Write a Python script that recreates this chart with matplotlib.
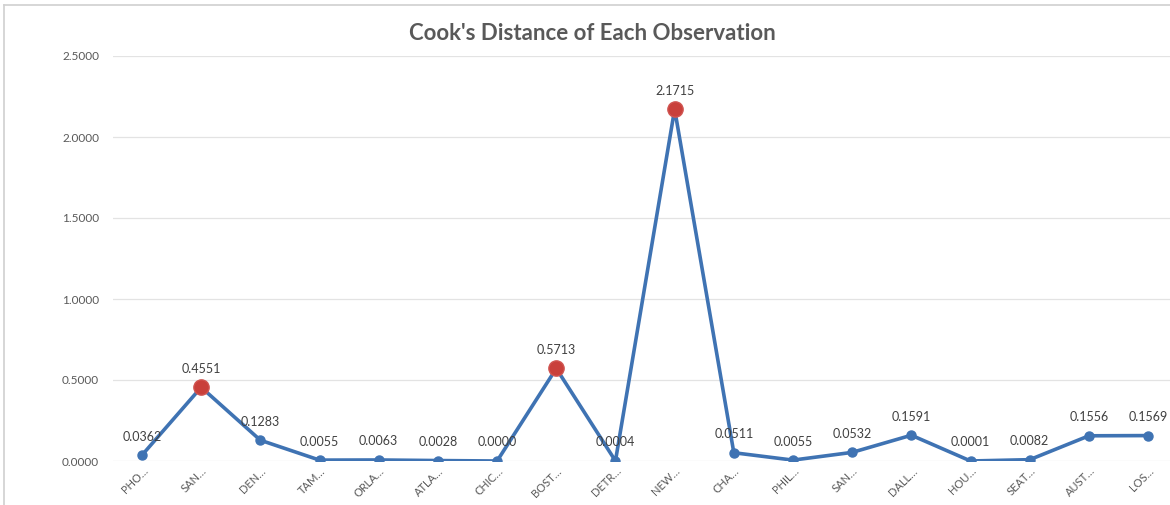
import matplotlib.pyplot as plt
from matplotlib.lines import Line2D

# labels on the category axis (truncated, as in the original)
steden = ["PHO…", "SAN…", "DEN…", "TAM…", "ORLA…", "ATLA…", "CHIC…", "BOST…", "DETR…",
          "NEW…", "CHA…", "PHIL…", "SAN…", "DALL…", "HOU…", "SEAT…", "AUST…", "LOS…"]

cooks_d = [0.0362, 0.4551, 0.1283, 0.0055, 0.0063, 0.0028, 0.0000, 0.5713, 0.0004,
           2.1715, 0.0511, 0.0055, 0.0532, 0.1591, 0.0001, 0.0082, 0.1556, 0.1569]

# observations flagged as influential (red markers)
invloedrijk = [1, 7, 9]

y_ticks = [0.0, 0.5, 1.0, 1.5, 2.0, 2.5]

plt.rcParams["font.family"] = ["Lato", "DejaVu Sans"]

fig = plt.figure(figsize=(11.7, 5.05), dpi=100)
ax = fig.add_axes([113 / 1170, 44 / 505, 1057 / 1170, 405 / 505])

x = list(range(len(cooks_d)))
ax.plot(x, cooks_d, color="#3f73b3", lw=2.6, marker="o", ms=6.5, zorder=3)

rx = [x[i] for i in invloedrijk]
ry = [cooks_d[i] for i in invloedrijk]
ax.plot(rx, ry, ls="none", marker="o", ms=11, color="#c9403b",
        markeredgecolor="#d05450", zorder=4)

for xi, yi in zip(x, cooks_d):
    ax.annotate(f"{yi:.4f}", (xi, yi), xytext=(0, 9), textcoords="offset points",
                ha="center", va="bottom", fontsize=9, color="#404040", zorder=5)

ax.set_xlim(-0.49, 17.37)
ax.set_ylim(0, 2.5)
ax.set_yticks(y_ticks)
ax.set_yticklabels([f"{t:.4f}" for t in y_ticks])
ax.set_xticks(x)
ax.set_xticklabels(steden, rotation=45, ha="right", rotation_mode="anchor")

ax.tick_params(axis="y", length=0, pad=10, labelsize=8.5, labelcolor="#595959")
ax.tick_params(axis="x", length=0, pad=3, labelsize=8, labelcolor="#595959")
ax.grid(axis="y", color="#e3e3e3", lw=0.9)
ax.set_axisbelow(True)
for s in ax.spines.values():
    s.set_visible(False)

fig.text(592 / 1170, 1 - 33 / 505, "Cook's Distance of Each Observation",
         ha="center", va="center", fontsize=16, fontweight="bold", color="#595959")

# rand van het grafiekgebied
fig.add_artist(Line2D([4 / 1170, 4 / 1170], [0, 1 - 5 / 505], color="#d0d0d0", lw=1.2))
fig.add_artist(Line2D([4 / 1170, 1], [1 - 5 / 505, 1 - 5 / 505], color="#d0d0d0", lw=1.2))

fig.savefig("out.png", dpi=100)
